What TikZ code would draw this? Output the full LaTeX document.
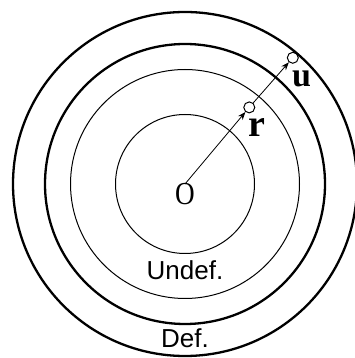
\documentclass[tikz,border=0pt]{standalone}
\usepackage{fontspec}
\setmainfont{Liberation Serif}
\setsansfont{Liberation Sans}
\usetikzlibrary{arrows.meta, positioning, calc}

\begin{document}
\begin{tikzpicture}[
  x=1pt, y=1pt,
  thickring/.style={draw=black, line width=2.3pt},
  thinring/.style={draw=black, line width=1pt},
  pt/.style={circle, draw=black, line width=1pt, inner sep=0pt, minimum size=11pt},
  arr/.style={-{Stealth[length=8pt, width=6pt]}, line width=0.8pt},
  zone/.style={font=\sffamily\fontsize{26}{28}\selectfont},
  vec/.style={font=\bfseries\fontsize{34}{36}\selectfont}
]
\useasboundingbox (0,0) rectangle (354,358);
\coordinate (o) at (185,174);

% rings
\draw[thickring] (o) circle (172);
\draw[thickring] (o) circle (140);
\draw[thinring] (o) circle (114.5);
\draw[thinring] (o) circle (69.5);

% points on the ray
\node[pt] (rpt) at ($(o)+(50:100)$) {};
\node[pt] (upt) at ($(o)+(49.5:166)$) {};
\draw[arr] (o) -- (rpt);
\draw[arr] (rpt) -- (upt);

% labels
\node[font=\fontsize{32}{34}\selectfont, xscale=0.85] (olab) at (185,163.5) {O};
\node[vec, font=\bfseries\fontsize{38}{40}\selectfont] (rlab) at (257,230) {r};
\node[vec] (ulab) at (301.5,279) {u};
\node[zone] (undef) at (185,87.5) {Undef.};
\node[zone] (def) at (185,19.5) {Def.};
\end{tikzpicture}
\end{document}
